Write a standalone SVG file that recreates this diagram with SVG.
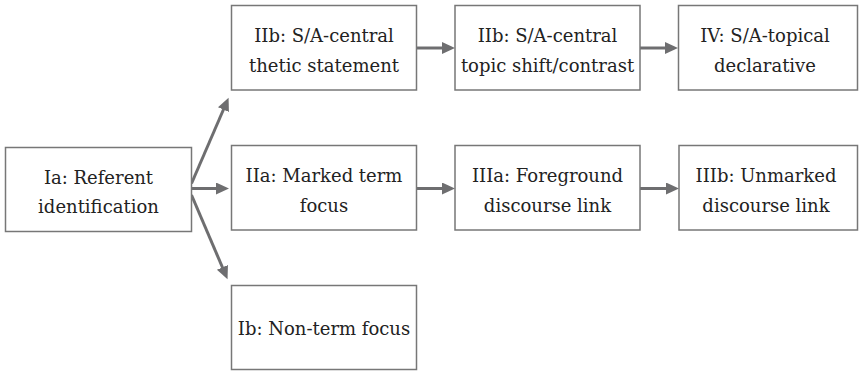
<svg xmlns="http://www.w3.org/2000/svg" width="860" height="371" viewBox="0 0 860 371">
<defs>
<style>
.box{fill:#fff;stroke:#777;stroke-width:1.5}
.t{font-family:"DejaVu Serif","Liberation Serif",serif;font-size:18px;fill:#222;text-anchor:middle}
.c{stroke:#6e6e70;stroke-width:3;fill:none}
</style>
<marker id="ah" markerUnits="userSpaceOnUse" markerWidth="16" markerHeight="16" refX="4" refY="6" orient="auto" viewBox="0 0 16 16">
<path d="M0,0 L13,6 L0,12 z" fill="#6e6e70"/>
</marker>
</defs>
<rect width="860" height="371" fill="#fff"/>
<g id="connectors">
<line class="c" x1="191.5" y1="183.5" x2="225" y2="106" marker-end="url(#ah)"/>
<line class="c" x1="191.5" y1="188.5" x2="220" y2="188.5" marker-end="url(#ah)"/>
<line class="c" x1="191.5" y1="195" x2="224" y2="271" marker-end="url(#ah)"/>
<line class="c" x1="416.5" y1="48" x2="446" y2="48" marker-end="url(#ah)"/>
<line class="c" x1="640" y1="48" x2="669" y2="48" marker-end="url(#ah)"/>
<line class="c" x1="416.5" y1="188.5" x2="446" y2="188.5" marker-end="url(#ah)"/>
<line class="c" x1="640" y1="188.5" x2="670" y2="188.5" marker-end="url(#ah)"/>
</g>
<g id="Ia">
<rect class="box" x="5.5" y="147.5" width="186" height="84"/>
<text class="t" x="98.5" y="183.5">Ia: Referent</text>
<text class="t" x="98.5" y="212.5">identification</text>
</g>
<g id="IIb1">
<rect class="box" x="231.5" y="5.5" width="185" height="84.5"/>
<text class="t" x="324" y="41.5">IIb: S/A-central</text>
<text class="t" x="324" y="71.5">thetic statement</text>
</g>
<g id="IIb2">
<rect class="box" x="455" y="5.5" width="185" height="84.5"/>
<text class="t" x="547.5" y="41.5">IIb: S/A-central</text>
<text class="t" x="547.5" y="71.5">topic shift/contrast</text>
</g>
<g id="IV">
<rect class="box" x="678.5" y="5.5" width="179" height="84.5"/>
<text class="t" x="765" y="41.5">IV: S/A-topical</text>
<text class="t" x="765" y="71.5">declarative</text>
</g>
<g id="IIa">
<rect class="box" x="231.5" y="145.5" width="185" height="84.5"/>
<text class="t" x="324" y="181.5">IIa: Marked term</text>
<text class="t" x="324" y="211.5">focus</text>
</g>
<g id="IIIa">
<rect class="box" x="455" y="145.5" width="185" height="84.5"/>
<text class="t" x="547.5" y="181.5">IIIa: Foreground</text>
<text class="t" x="547.5" y="211.5">discourse link</text>
</g>
<g id="IIIb">
<rect class="box" x="679" y="145.5" width="178.5" height="84.5"/>
<text class="t" x="766" y="181.5">IIIb: Unmarked</text>
<text class="t" x="766" y="211.5">discourse link</text>
</g>
<g id="Ib">
<rect class="box" x="231.5" y="285.5" width="185" height="84"/>
<text class="t" x="324" y="335">Ib: Non-term focus</text>
</g>
</svg>
